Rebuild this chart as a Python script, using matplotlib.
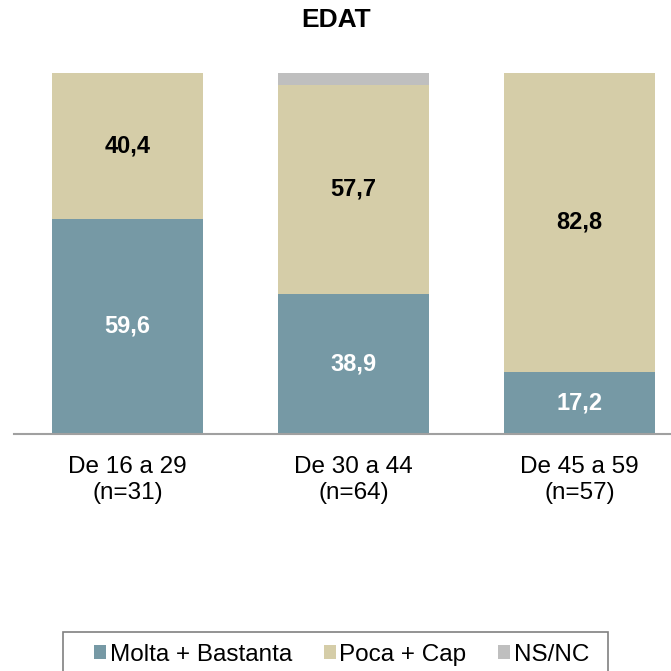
import matplotlib
matplotlib.use("Agg")
import matplotlib.pyplot as plt
from matplotlib.patches import Rectangle
import numpy as np

categories = ["De 16 a 29\n(n=31)", "De 30 a 44\n(n=64)", "De 45 a 59\n(n=57)"]
molta = [59.6, 38.9, 17.2]
poca = [40.4, 57.7, 82.8]
nsnc = [0.0, 3.4, 0.0]
series_names = ["Molta + Bastanta", "Poca + Cap", "NS/NC"]
colors = ["#7699A5", "#D5CDA8", "#BFBFBF"]

plt.rcParams['font.family'] = ['Liberation Sans', 'DejaVu Sans']

W = 671
fig = plt.figure(figsize=(6.71, 6.71), dpi=100)
ax = fig.add_axes([14 / W, 1 - 434 / W, (W - 14) / W, 361 / W])

x = np.arange(len(categories))
bw = 151 / 226
b1 = ax.bar(x, molta, bw, color=colors[0], label=series_names[0])
b2 = ax.bar(x, poca, bw, bottom=molta, color=colors[1], label=series_names[1])
bottom3 = np.array(molta) + np.array(poca)
b3 = ax.bar(x, nsnc, bw, bottom=bottom3, color=colors[2], label=series_names[2])

for i in range(len(categories)):
    ax.text(x[i], molta[i] / 2, f"{molta[i]:.1f}".replace(".", ","), ha="center", va="center",
            color="white", fontsize=17, fontweight="bold")
    ax.text(x[i], molta[i] + poca[i] / 2, f"{poca[i]:.1f}".replace(".", ","), ha="center", va="center",
            color="black", fontsize=17, fontweight="bold")

ax.set_xlim(-(127.5 - 14) / 226, (W - 127.5) / 226)
ax.set_ylim(0, 100)
ax.set_xticks(x)
ax.set_xticklabels(categories, fontsize=17.5, linespacing=1.2)
ax.tick_params(axis="x", length=0, pad=16)
ax.set_yticks([])
for s in ["top", "right", "left"]:
    ax.spines[s].set_visible(False)
ax.spines["bottom"].set_color("#A0A0A0")
ax.spines["bottom"].set_linewidth(1.5)

fig.text(336 / W, 1 - 20 / W, "EDAT", ha="center", va="center", fontsize=19, fontweight="bold")

# legend frame (cut off by the bottom edge as in the reference)
fig.patches.append(Rectangle((63 / W, -0.05), 545 / W, 0.05 + 1 - 632 / W, transform=fig.transFigure,
                             facecolor="none", edgecolor="#808080", linewidth=1.2))
leg = fig.legend(handles=[b1, b2, b3], labels=series_names, loc="center left",
                 bbox_to_anchor=(94 / W, 1 - 655 / W), bbox_transform=fig.transFigure,
                 ncol=3, fontsize=17.5, frameon=False,
                 handlelength=0.5, handleheight=0.5, handletextpad=0.15, columnspacing=1.3,
                 borderpad=0, borderaxespad=0)

fig.savefig("out.png", dpi=100)
